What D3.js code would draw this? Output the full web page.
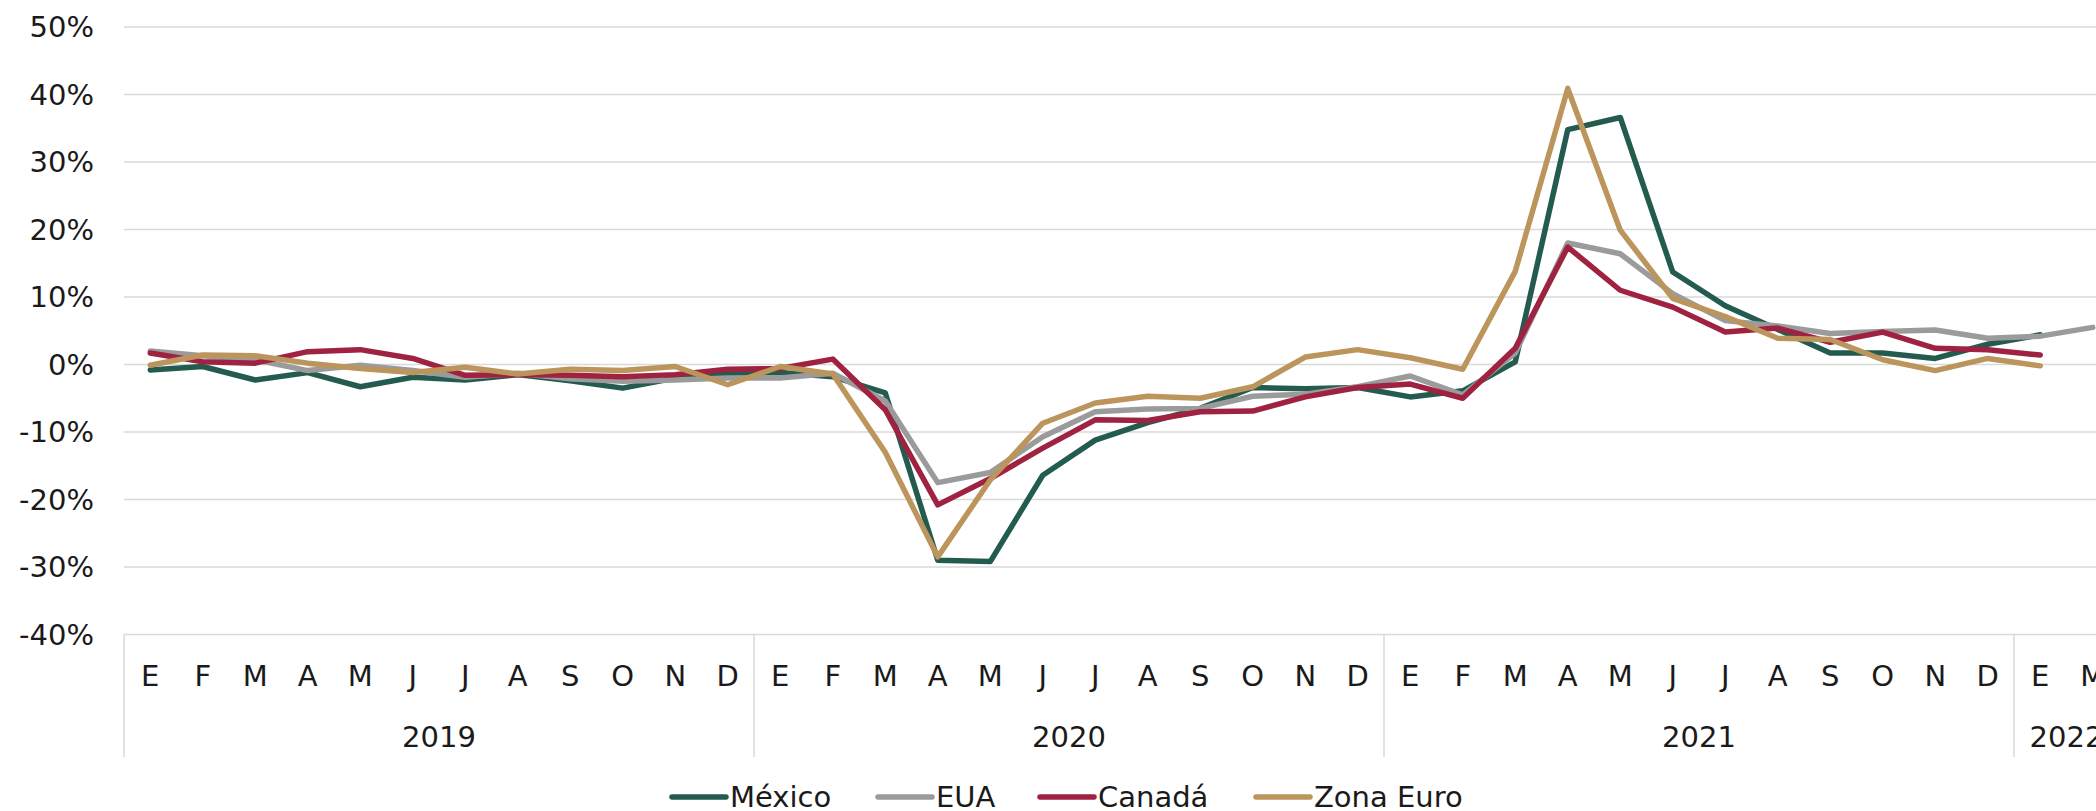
<!DOCTYPE html>
<html>
<head>
<meta charset="utf-8">
<script src="https://cdn.jsdelivr.net/npm/d3@7"></script>
<style>
  html, body { margin: 0; padding: 0; background: #fff; }
  svg { display: block; font-family: "DejaVu Sans", sans-serif; font-weight: 400; }
</style>
</head>
<body>
<svg id="chart"></svg>
<script>
// meses y años
const years = ["2019", "2020", "2021", "2022"];
const monthsPerYear = [
  ["E","F","M","A","M","J","J","A","S","O","N","D"],
  ["E","F","M","A","M","J","J","A","S","O","N","D"],
  ["E","F","M","A","M","J","J","A","S","O","N","D"],
  ["E","M"]
];
const yTicks = [-40, -30, -20, -10, 0, 10, 20, 30, 40, 50];

// series (variación anual, %)
const mexico = [-0.8, -0.3, -2.3, -1.2, -3.3, -1.9, -2.3, -1.5, -2.4, -3.5, -2.0, -1.3,
  -1.2, -1.8, -4.2, -29.0, -29.2, -16.4, -11.2, -8.6, -6.5, -3.4, -3.6, -3.4,
  -4.8, -3.9, 0.4, 34.8, 36.6, 13.7, 8.7, 5.2, 1.7, 1.7, 0.9, 3.0,
  4.4];
const eua = [2.0, 1.3, 0.7, -0.9, -0.1, -0.9, -1.9, -1.3, -2.1, -2.5, -2.3, -2.0,
  -2.0, -1.3, -5.4, -17.5, -16.0, -10.7, -7.0, -6.6, -6.5, -4.7, -4.4, -3.3,
  -1.7, -4.5, 1.7, 18.0, 16.4, 10.5, 6.5, 5.7, 4.6, 4.9, 5.1, 3.9,
  4.2, 5.5];
const canada = [1.7, 0.4, 0.2, 1.9, 2.2, 0.9, -1.6, -1.5, -1.6, -1.8, -1.5, -0.7,
  -0.6, 0.8, -6.7, -20.8, -16.9, -12.4, -8.2, -8.3, -7.0, -6.9, -4.8, -3.4,
  -2.9, -5.0, 2.4, 17.4, 11.0, 8.5, 4.8, 5.4, 3.3, 4.8, 2.4, 2.2,
  1.4];
const zonaEuro = [-0.1, 1.4, 1.3, 0.2, -0.6, -1.2, -0.4, -1.4, -0.7, -0.9, -0.3, -3.0,
  -0.3, -1.4, -13.0, -28.5, -17.1, -8.7, -5.7, -4.7, -5.0, -3.3, 1.1, 2.2,
  1.0, -0.7, 13.8, 40.9, 19.9, 9.8, 7.1, 3.9, 3.7, 0.7, -0.9, 0.9,
  -0.2];

const series = [
  { name: "México", values: mexico, color: "#235B4E" },
  { name: "EUA", values: eua, color: "#9B9B9B" },
  { name: "Canadá", values: canada, color: "#9F2241" },
  { name: "Zona Euro", values: zonaEuro, color: "#BC955C" }
];

const width = 2096, height = 811;
const margin = { top: 27, left: 124, bottom: 176.5 };
const band = 52.5;
const fontSize = 29;
const textColor = "#1a1a1a";

// categorías planas
let cats = [];
monthsPerYear.forEach((ms, yi) => ms.forEach((m, mi) => cats.push({ key: years[yi] + "-" + mi, month: m, year: years[yi] })));

const svg = d3.select("#chart").attr("width", width).attr("height", height);

const x = d3.scaleBand()
  .domain(cats.map(d => d.key))
  .range([margin.left, margin.left + cats.length * band])
  .padding(0);

const y = d3.scaleLinear()
  .domain([-40, 50])
  .range([height - margin.bottom, margin.top]);

const gridColor = "#d9d9d9";

// líneas de la cuadrícula
svg.append("g").selectAll("line")
  .data(yTicks)
  .join("line")
  .attr("x1", margin.left).attr("x2", width)
  .attr("y1", d => y(d)).attr("y2", d => y(d))
  .attr("stroke", gridColor).attr("stroke-width", 1.5);

// etiquetas eje y
svg.append("g").selectAll("text")
  .data(yTicks)
  .join("text")
  .attr("x", 94)
  .attr("y", d => y(d))
  .attr("dy", "0.36em")
  .attr("text-anchor", "end")
  .attr("font-size", fontSize)
  .attr("fill", textColor)
  .text(d => d + "%");

// eje x: meses
const y0 = y(-40);
svg.append("g").selectAll("text")
  .data(cats)
  .join("text")
  .attr("x", d => x(d.key) + band / 2)
  .attr("y", 676)
  .attr("dy", "0.36em")
  .attr("text-anchor", "middle")
  .attr("font-size", fontSize)
  .attr("fill", textColor)
  .text(d => d.month);

// separadores de años
let yearInfo = [];
let idx = 0;
monthsPerYear.forEach((ms, yi) => {
  yearInfo.push({ year: years[yi], start: idx, n: ms.length });
  idx += ms.length;
});
const sepX = yearInfo.map(d => x(cats[d.start].key)).concat([margin.left + (idx) * band]);
svg.append("g").selectAll("line")
  .data(sepX)
  .join("line")
  .attr("x1", d => d).attr("x2", d => d)
  .attr("y1", y0).attr("y2", 757)
  .attr("stroke", gridColor).attr("stroke-width", 1.5);

// etiquetas de años
svg.append("g").selectAll("text")
  .data(yearInfo)
  .join("text")
  .attr("x", d => x(cats[d.start].key) + d.n * band / 2)
  .attr("y", 737)
  .attr("dy", "0.36em")
  .attr("text-anchor", "middle")
  .attr("font-size", fontSize)
  .attr("fill", textColor)
  .text(d => d.year);

// líneas
const line = d3.line()
  .x((d, i) => x(cats[i].key) + band / 2)
  .y(d => y(d));

svg.append("g").selectAll("path")
  .data(series)
  .join("path")
  .attr("d", d => line(d.values))
  .attr("fill", "none")
  .attr("stroke", d => d.color)
  .attr("stroke-width", 5.5)
  .attr("stroke-linejoin", "round")
  .attr("stroke-linecap", "round");

// leyenda (posición de cada entrada)
const legendX = [672, 878, 1040, 1256];
const legend = svg.append("g");
series.forEach((s, i) => {
  const lx = legendX[i];
  legend.append("line")
    .attr("x1", lx).attr("x2", lx + 54)
    .attr("y1", 797).attr("y2", 797)
    .attr("stroke", s.color).attr("stroke-width", 5.5).attr("stroke-linecap", "round");
  legend.append("text")
    .attr("x", lx + 58)
    .attr("y", 797)
    .attr("dy", "0.36em")
    .attr("font-size", fontSize)
    .attr("fill", textColor)
    .text(s.name);
});
</script>
</body>
</html>
